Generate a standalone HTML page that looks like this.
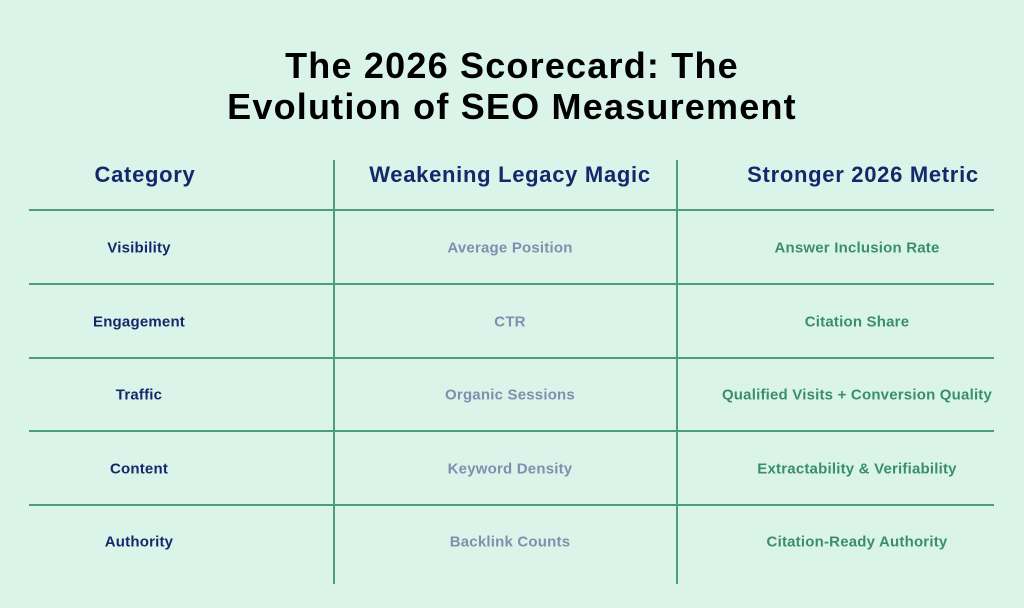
<!DOCTYPE html>
<html><head><style>
body{margin:0;width:1024px;height:608px;background:#dbf4ea;font-family:"Liberation Sans",sans-serif;position:relative;overflow:hidden}
.t{position:absolute;white-space:nowrap;transform:translate(-50%,-50%)}
.title{font-size:36px;font-weight:bold;color:#000;letter-spacing:1.2px}
.h{font-size:22px;font-weight:bold;color:#14296b;letter-spacing:0.7px}
.c1{font-size:15px;font-weight:bold;color:#14296b;letter-spacing:0.2px}
.c2{font-size:15px;font-weight:bold;color:#7f8fae;letter-spacing:0.2px}
.c3{font-size:15px;font-weight:bold;color:#3a8f6a;letter-spacing:0.2px}
.hl{position:absolute;left:29px;width:965px;height:2px;background:#4a9e78}
.vl{position:absolute;top:160px;height:424px;width:2px;background:#4a9e78}
</style></head><body>
<div class="t title" style="left:512px;top:66px">The 2026 Scorecard: The</div>
<div class="t title" style="left:512px;top:107px">Evolution of SEO Measurement</div>
<div class="t h" style="left:145px;top:175px">Category</div>
<div class="t h" style="left:510px;top:175px">Weakening Legacy Magic</div>
<div class="t h" style="left:863px;top:175px">Stronger 2026 Metric</div>
<div class="hl" style="top:209px"></div>
<div class="hl" style="top:283px"></div>
<div class="hl" style="top:357px"></div>
<div class="hl" style="top:430px"></div>
<div class="hl" style="top:504px"></div>
<div class="vl" style="left:333px"></div>
<div class="vl" style="left:676px"></div>
<div class="t c1" style="left:139px;top:248px">Visibility</div>
<div class="t c1" style="left:139px;top:322px">Engagement</div>
<div class="t c1" style="left:139px;top:395px">Traffic</div>
<div class="t c1" style="left:139px;top:469px">Content</div>
<div class="t c1" style="left:139px;top:542px">Authority</div>
<div class="t c2" style="left:510px;top:248px">Average Position</div>
<div class="t c2" style="left:510px;top:322px">CTR</div>
<div class="t c2" style="left:510px;top:395px">Organic Sessions</div>
<div class="t c2" style="left:510px;top:469px">Keyword Density</div>
<div class="t c2" style="left:510px;top:542px">Backlink Counts</div>
<div class="t c3" style="left:857px;top:248px">Answer Inclusion Rate</div>
<div class="t c3" style="left:857px;top:322px">Citation Share</div>
<div class="t c3" style="left:857px;top:395px">Qualified Visits + Conversion Quality</div>
<div class="t c3" style="left:857px;top:469px">Extractability &amp; Verifiability</div>
<div class="t c3" style="left:857px;top:542px">Citation-Ready Authority</div>
</body></html>
